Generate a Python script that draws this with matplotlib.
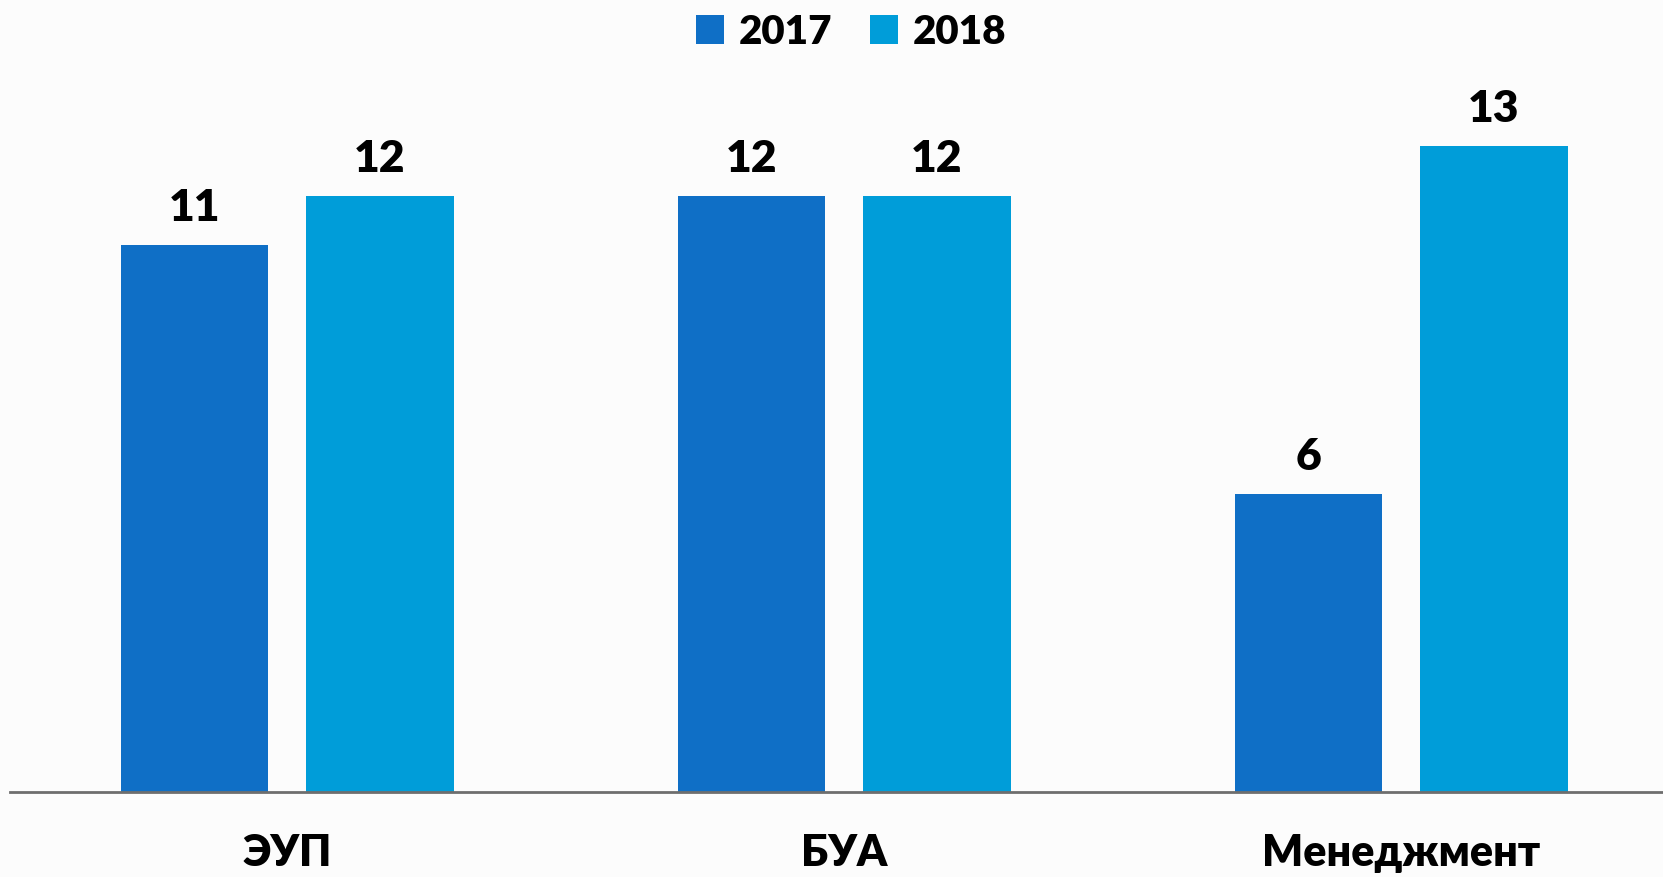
import matplotlib
matplotlib.use("Agg")
import matplotlib.pyplot as plt
from matplotlib.patches import Patch
import numpy as np

categories = ["ЭУП", "БУА", "Менеджмент"]
series_names = ["2017", "2018"]
values_2017 = [11, 12, 6]
values_2018 = [12, 12, 13]
colors = ["#0F6FC6", "#009DD9"]

plt.rcParams['font.family'] = ['Lato', 'Open Sans', 'DejaVu Sans']
WT = 'heavy'

W, H = 1663, 878
fig = plt.figure(figsize=(W / 100, H / 100), dpi=100)
bg = "#FCFCFC"
fig.patch.set_facecolor(bg)

base_px = 793
ax = fig.add_axes([0, (H - base_px) / H, 1, base_px / H])
ax.set_facecolor(bg)

spacing = 557.0
c0 = 287.0
ax.set_xlim(-c0 / spacing, (W - c0) / spacing)
ax.set_ylim(0, base_px / 49.7)

x = np.arange(len(categories))
bw = 147.5 / spacing
off = (147.5 + 38) / 2 / spacing
b1 = ax.bar(x - off, values_2017, bw, color=colors[0], label=series_names[0])
b2 = ax.bar(x + off, values_2018, bw, color=colors[1], label=series_names[1])

for bars, vals in ((b1, values_2017), (b2, values_2018)):
    for rect, v in zip(bars, vals):
        ax.annotate(str(v), (rect.get_x() + rect.get_width() / 2, v),
                    xytext=(0, 13), textcoords="offset points",
                    ha="center", va="bottom", fontsize=32, fontweight=WT,
                    color="black")

for s in ax.spines.values():
    s.set_visible(False)
ax.set_yticks([])
ax.set_xticks(x)
ax.set_xticklabels(categories, fontsize=31, fontweight=WT)
ax.tick_params(axis='x', length=0, pad=29)
ax.plot([10 / W, 1], [0, 0], transform=ax.transAxes, color="#6E6E6E", lw=2, clip_on=False)

handles = [Patch(facecolor=colors[0]), Patch(facecolor=colors[1])]
fig.legend(handles, series_names, loc="center", bbox_to_anchor=(851 / W, 1 - 33 / H),
           ncol=2, frameon=False, prop={'weight': WT, 'size': 29},
           handlelength=0.7, handleheight=0.7, handletextpad=0.35, columnspacing=0.95)

fig.savefig("out.png", dpi=100, facecolor=bg)
